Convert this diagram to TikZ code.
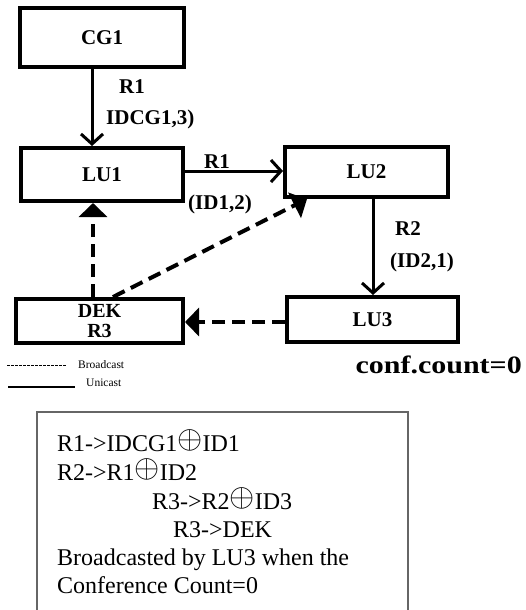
\documentclass[tikz,border=0pt]{standalone}
\usepackage{fontspec}
\usepackage{graphicx}
\setmainfont{Liberation Serif}
\newfontfamily\widef[FakeStretch=1.2]{Liberation Serif}
\usetikzlibrary{arrows.meta}
\newcommand\myoplus{\raisebox{2.5pt}{\scalebox{1.3}{$\oplus$}}}
\begin{document}
\begin{tikzpicture}[x=1pt,y=-1pt,
  box/.style={draw, line width=4pt, inner sep=0pt, font=\fontsize{21}{21}\selectfont\bfseries},
  lbl/.style={font=\fontsize{21}{21}\selectfont\bfseries, inner sep=0pt, anchor=base west},
  uni/.style={line width=3pt, -{Straight Barb[length=10pt,width=22pt,line width=3pt]}},
  bc/.style={line width=4pt, dash pattern=on 13pt off 7pt, -{Triangle[length=14pt,width=28pt]}},
  note/.style={font=\fontsize{24}{24}\selectfont, inner sep=0pt, anchor=base west}]
\useasboundingbox (0,0) rectangle (525,610);
\fill[white] (0,0) rectangle (525,610);

% boxes
\node[box, minimum width=164pt, minimum height=59pt] (cg1) at (102,37.5) {CG1};
\node[box, minimum width=162pt, minimum height=53pt] (lu1) at (102,174.5) {LU1};
\node[box, minimum width=163pt, minimum height=50pt] (lu2) at (366.5,172) {LU2};
\node[box, minimum width=171pt, minimum height=45pt] (lu3) at (372.5,319.5) {LU3};
\node[box, minimum width=167pt, minimum height=44pt, align=center,
      font=\fontsize{20}{20}\selectfont\bfseries] (dek) at (99.5,321) {DEK\\R3};

% helper coordinates
\coordinate (v1) at (92,0);
\coordinate (h1) at (0,171);
\coordinate (v2) at (373,0);
\coordinate (v3) at (93,0);
\coordinate (v4) at (113,0);
\coordinate (v5) at (307,0);
\coordinate (h2) at (0,322);

% unicast arrows
\draw[uni] (cg1.south -| v1) -- (lu1.north -| v1);
\draw[uni] (lu1.east |- h1) -- (lu2.west |- h1);
\draw[uni] (lu2.south -| v2) -- (lu3.north -| v2);

% broadcast arrows
\draw[bc] (dek.north -| v3) -- (lu1.south -| v3);
\draw[bc] (dek.north -| v4) -- (lu2.south -| v5);
\draw[bc] (lu3.west |- h2) -- (dek.east |- h2);

% labels
\node[lbl] (r1a) at (119,93) {R1};
\node[lbl] (id1) at (106,124) {IDCG1,3)};
\node[lbl] (r1b) at (204,168) {R1};
\node[lbl] (id2) at (188,209) {(ID1,2)};
\node[lbl] (r2) at (395,235) {R2};
\node[lbl] (id3) at (390,267) {(ID2,1)};

% legend
\coordinate (la) at (7,365);
\coordinate (lb) at (67,365);
\coordinate (lc) at (8,387);
\coordinate (ld) at (75,387);
\draw[line width=0.7pt, dash pattern=on 2.5pt off 1.5pt] (la) -- (lb);
\draw[line width=2pt] (lc) -- (ld);
\node[font=\fontsize{11.5}{11.5}\selectfont, anchor=west, inner sep=0pt] (lbc) at (78,365) {Broadcast};
\node[font=\fontsize{11.5}{11.5}\selectfont, anchor=west, inner sep=0pt] (luc) at (86,383) {Unicast};

\node[font=\widef\fontsize{25}{25}\selectfont\bfseries, anchor=base east, inner sep=0pt] (cc) at (522,373) {conf.count=0};

% note box (open at bottom)
\draw[line width=1.5pt, color=black!60] (37,615) -- (37,412) -- (408,412) -- (408,615);
\node[note] (t1) at (57,451) {R1->IDCG1\myoplus ID1};
\node[note] (t2) at (57,480) {R2->R1\myoplus ID2};
\node[note] (t3) at (152,509) {R3->R2\myoplus ID3};
\node[note] (t4) at (173,537) {R3->DEK};
\node[note] (t5) at (57,565) {Broadcasted by LU3 when the};
\node[note] (t6) at (57,593) {Conference Count=0};
\end{tikzpicture}
\end{document}
